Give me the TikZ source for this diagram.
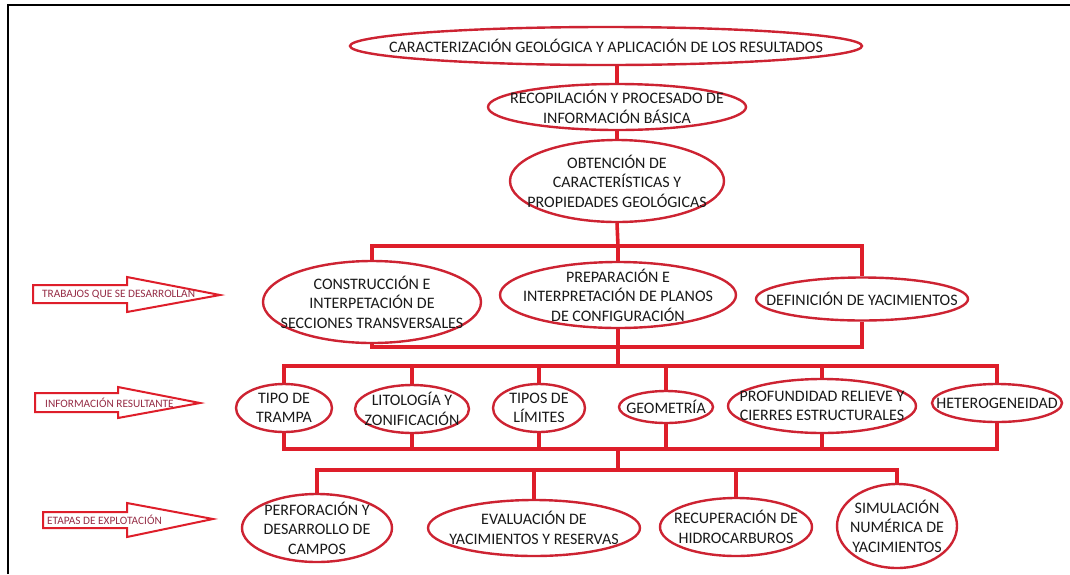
\documentclass[tikz,border=0pt]{standalone}
\usepackage{fontspec}
\setmainfont{Carlito}
\usetikzlibrary{shapes.geometric}
\definecolor{lred}{RGB}{222,30,42}
\definecolor{ered}{RGB}{205,35,50}
\definecolor{atext}{RGB}{150,45,70}
\definecolor{txt}{RGB}{25,25,25}
\begin{document}
\begin{tikzpicture}[x=1pt,y=-1pt,
  ell/.style={ellipse, draw=ered, line width=2.4pt, inner sep=0pt},
  lbl/.style={align=center, inner sep=0pt, text=txt, font=\fontsize{16}{19.5}\selectfont},
  conn/.style={draw=lred, line width=3.6pt, line join=miter},
  arr/.style={draw=lred, line width=2pt, line join=miter, fill=white},
  atxt/.style={font=\fontsize{11.3}{13}\selectfont, text=atext, inner sep=0pt, anchor=west}]
\useasboundingbox (0,0) rectangle (1070,574);
\draw[line width=2pt] (8,574) -- (8,5) -- (1070,5);

% level nodes
\node[ell, minimum width=512, minimum height=38, label={[lbl]center:CARACTERIZACIÓN GEOLÓGICA Y APLICACIÓN DE LOS RESULTADOS}] (top) at (606,46) {};
\node[ell, minimum width=258, minimum height=46, label={[lbl]center:RECOPILACIÓN Y PROCESADO DE\\INFORMACIÓN BÁSICA}] (rec) at (617,107) {};
\node[ell, minimum width=214, minimum height=82, label={[lbl]center:OBTENCIÓN DE\\CARACTERÍSTICAS Y\\PROPIEDADES GEOLÓGICAS}] (obt) at (617,181) {};

\node[ell, minimum width=218, minimum height=82, label={[lbl]center:CONSTRUCCIÓN E\\INTERPETACIÓN DE\\SECCIONES TRANSVERSALES}] (cons) at (372,302) {};
\node[ell, minimum width=236, minimum height=66, label={[lbl]center:PREPARACIÓN E\\INTERPRETACIÓN DE PLANOS\\DE CONFIGURACIÓN}] (prep) at (618,295) {};
\node[ell, minimum width=212, minimum height=43, label={[lbl]center:DEFINICIÓN DE YACIMIENTOS}] (def) at (862,299) {};

\node[ell, minimum width=96, minimum height=48, label={[lbl]center:TIPO DE\\TRAMPA}] (tipo) at (284,408) {};
\node[ell, minimum width=114, minimum height=48, label={[lbl]center:LITOLOGÍA Y\\ZONIFICACIÓN}] (lito) at (412,409) {};
\node[ell, minimum width=92, minimum height=48, label={[lbl]center:TIPOS DE\\LÍMITES}] (tipos) at (539,408) {};
\node[ell, minimum width=94, minimum height=32, label={[lbl]center:GEOMETRÍA}] (geo) at (666,407) {};
\node[ell, minimum width=188, minimum height=54, label={[lbl]center:PROFUNDIDAD RELIEVE Y\\CIERRES ESTRUCTURALES}] (prof) at (822,406) {};
\node[ell, minimum width=130, minimum height=38, label={[lbl]center:HETEROGENEIDAD}] (het) at (997,403) {};

\node[ell, minimum width=150, minimum height=68, label={[lbl]center:PERFORACIÓN Y\\DESARROLLO DE\\CAMPOS}] (perf) at (317,528) {};
\node[ell, minimum width=212, minimum height=56, label={[lbl]center:EVALUACIÓN DE\\YACIMIENTOS Y RESERVAS}] (eval) at (534,528) {};
\node[ell, minimum width=152, minimum height=58, label={[lbl]center:RECUPERACIÓN DE\\HIDROCARBUROS}] (recu) at (736,527) {};
\node[ell, minimum width=120, minimum height=84, label={[lbl]center:SIMULACIÓN\\NUMÉRICA DE\\YACIMIENTOS}] (sim) at (897,526) {};

% bus junctions
\coordinate (b1) at (618,246);
\coordinate (b2) at (618,347);
\coordinate (b3) at (618,366);
\coordinate (b4) at (618,449);
\coordinate (b5) at (618,470);

% connectors
\draw[conn] (rec.north) -- (top.south -| rec.north);
\draw[conn] (obt.north) -- (rec.south -| obt.north);
\draw[conn] (obt.south) -- (b1);
\draw[conn] (cons.north) |- (b1) -| (def.north);
\draw[conn] (b1) -- (prep.north);
\draw[conn] (cons.south) |- (b2) -| (def.south);
\draw[conn] (prep.south) -- (b2) -- (b3);
\draw[conn] (tipo.north) |- (b3) -| (het.north);
\foreach \n in {lito,tipos,geo,prof} \draw[conn] (\n.north) -- (\n.north |- b3);
\draw[conn] (tipo.south) |- (b4) -| (het.south);
\foreach \n in {lito,tipos,geo,prof} \draw[conn] (\n.south) -- (\n.south |- b4);
\draw[conn] (b4) -- (b5);
\draw[conn] (perf.north) |- (b5) -| (sim.north);
\foreach \n in {eval,recu} \draw[conn] (\n.north) -- (\n.north |- b5);

% side arrows
\draw[arr] (33,285) -- (127,285) -- (127,277) -- (220,295) -- (127,312) -- (127,303) -- (33,303) -- cycle;
\node[atxt] (a1) at (42,294.5) {TRABAJOS QUE SE DESARROLLAN};
\draw[arr] (35,393) -- (118,393) -- (118,387) -- (200,403) -- (118,418) -- (118,412) -- (35,412) -- cycle;
\node[atxt] (a2) at (45,403) {INFORMACIÓN RESULTANTE};
\draw[arr] (43,512) -- (127,512) -- (127,503) -- (213,519) -- (127,537) -- (127,528) -- (43,528) -- cycle;
\node[atxt] (a3) at (47,520) {ETAPAS DE EXPLOTACIÓN};
\end{tikzpicture}
\end{document}
